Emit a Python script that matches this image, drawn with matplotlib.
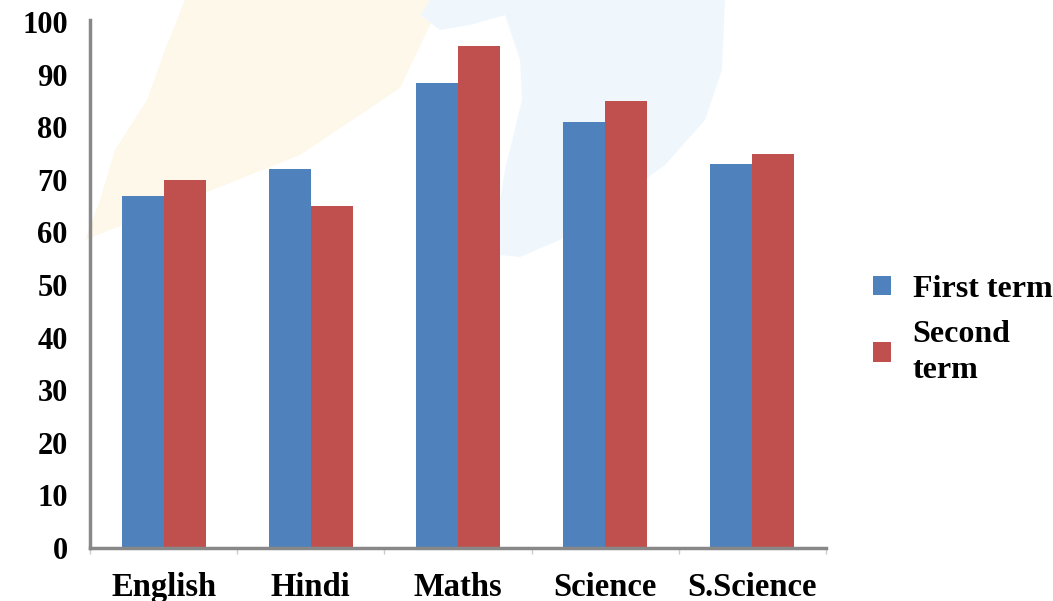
import numpy as np
import matplotlib
matplotlib.use("Agg")
import matplotlib.pyplot as plt
from matplotlib.patches import Polygon

# marks of the two terms
subjects = ['English', 'Hindi', 'Maths', 'Science', 'S.Science']
first_term = [67, 72, 88.5, 81, 73]
second_term = [70, 65, 95.5, 85, 75]
yticks = [0, 10, 20, 30, 40, 50, 60, 70, 80, 90, 100]

W, H = 1053, 601
plt.rcParams['font.family'] = ['Liberation Serif', 'DejaVu Serif']
plt.rcParams['font.weight'] = 'bold'

fig = plt.figure(figsize=(W / 100, H / 100), dpi=100)

# faint watermark shapes behind the chart (pixel coords, y from top)
def px(pts):
    return [(x / W, 1 - y / H) for x, y in pts]

yellow = [(85, 240), (100, 200), (115, 150), (147, 100), (165, 50), (185, 0),
          (440, 0), (430, 25), (400, 88), (300, 155), (200, 195), (130, 222)]
blue = [(430, 0), (725, 0), (722, 70), (705, 120), (665, 165), (610, 205),
        (560, 240), (520, 257), (500, 255), (497, 220), (505, 170), (522, 100),
        (520, 60), (505, 15), (470, 25), (440, 30), (420, 15)]
fig.patches.append(Polygon(px(yellow), closed=True, transform=fig.transFigure,
                           facecolor='#fef8ea', edgecolor='none', zorder=0))
fig.patches.append(Polygon(px(blue), closed=True, transform=fig.transFigure,
                           facecolor='#f0f7fc', edgecolor='none', zorder=0))

ax = fig.add_axes([90 / W, 1 - 548 / H, 736 / W, 528 / H])
ax.set_zorder(2)
ax.patch.set_alpha(0)

x = np.arange(len(subjects))
w = 0.285
ax.bar(x - w / 2, first_term, w, color='#4f81bd', label='First term', zorder=2)
ax.bar(x + w / 2, second_term, w, color='#c0504d', label='Second\nterm', zorder=2)

ax.set_xlim(-0.5, len(subjects) - 0.5)
ax.set_ylim(0, 100.4)
ax.set_yticks(yticks)
ax.set_yticklabels([str(v) for v in yticks], fontsize=22, fontweight='bold')
ax.set_xticks(x)
ax.set_xticklabels(subjects, fontsize=23.5, fontweight='bold')
ax.set_xticks(np.arange(len(subjects) + 1) - 0.5, minor=True)
ax.tick_params(axis='y', length=0, pad=16)
ax.tick_params(axis='x', which='major', length=0, pad=17)
ax.tick_params(axis='x', which='minor', length=4, color='#cccccc', width=1)

for s in ['top', 'right']:
    ax.spines[s].set_visible(False)
for s in ['left', 'bottom']:
    ax.spines[s].set_color('#888888')
    ax.spines[s].set_linewidth(2.5)

leg = fig.legend(*ax.get_legend_handles_labels(), loc='center left',
                 bbox_to_anchor=(873 / W, 1 - 330 / H), frameon=False,
                 prop={'family': 'Liberation Serif', 'weight': 'bold', 'size': 23},
                 handlelength=0.56, handleheight=0.56, handletextpad=0.68,
                 labelspacing=0.5, borderpad=0, borderaxespad=0)
leg.get_texts()[1].set_linespacing(1.33)

fig.savefig('out.png', dpi=100)
